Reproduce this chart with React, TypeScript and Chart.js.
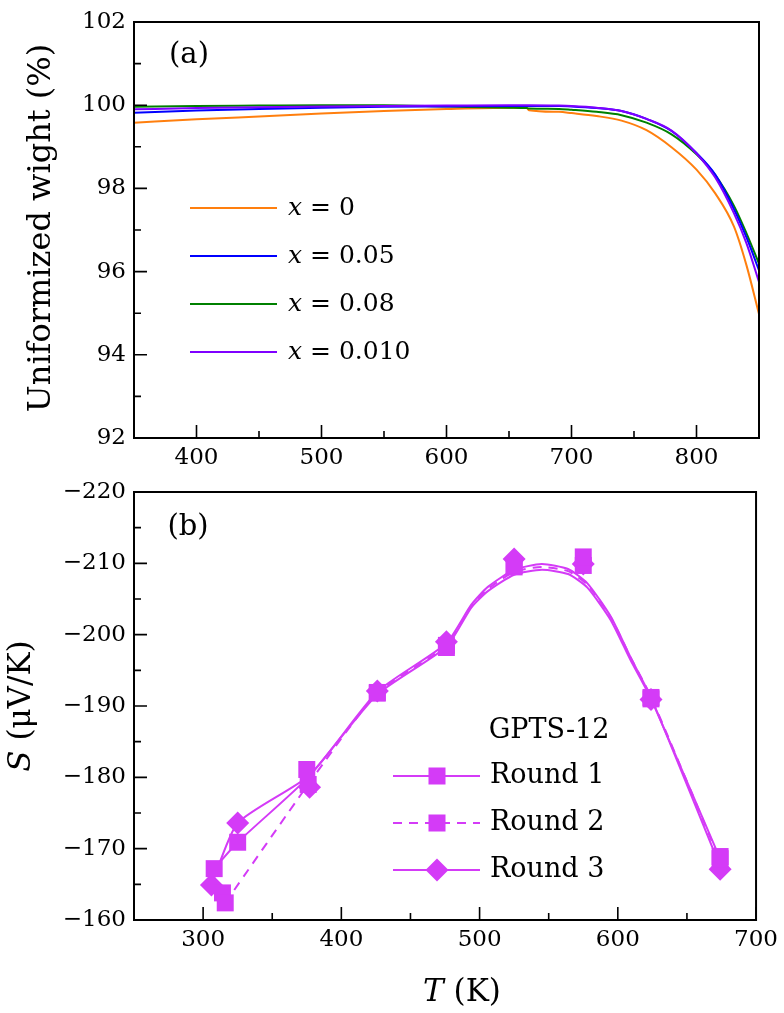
import React, { useEffect, useRef } from 'react';
import { Chart, registerables } from 'chart.js';

Chart.register(...registerables);

// ---------- Panel (a) data: TGA curves ----------
const TOP_T = [350, 400, 450, 500, 550, 600, 650, 664, 666, 690, 700, 720, 740, 760, 780, 800, 815, 830, 840, 850];
const W_X0 = [99.58, 99.66, 99.73, 99.8, 99.86, 99.91, 99.94, 99.94, 99.88, 99.84, 99.81, 99.74, 99.63, 99.4, 98.99, 98.45, 97.88, 97.08, 96.15, 94.98];
const W_X005 = [99.82, 99.87, 99.91, 99.94, 99.96, 99.97, 99.98, 99.98, 99.98, 99.98, 99.97, 99.93, 99.86, 99.67, 99.38, 98.85, 98.33, 97.5, 96.82, 96.03];
const W_X008 = [99.96, 99.98, 99.99, 100.0, 100.0, 99.97, 99.94, 99.93, 99.92, 99.91, 99.89, 99.84, 99.76, 99.58, 99.3, 98.82, 98.32, 97.58, 96.92, 96.19];
const W_X010 = [99.9, 99.93, 99.95, 99.97, 99.98, 99.99, 100.0, 100.0, 100.0, 99.99, 99.98, 99.94, 99.86, 99.67, 99.39, 98.84, 98.26, 97.4, 96.68, 95.75];
const TOP_LEGEND = ['0', '0.05', '0.08', '0.010'];
const TOP_X_TICKS = [400, 500, 600, 700, 800];
const TOP_X_MINOR = [450, 550, 650, 750];
const TOP_Y_TICKS = [92, 94, 96, 98, 100, 102];
const TOP_Y_MINOR = [93, 95, 97, 99, 101];

// ---------- Panel (b) data: Seebeck coefficient ----------
const R1_T = [308, 325, 375, 426, 476, 525, 575, 624, 674];
const R1_S = [-167.2, -170.9, -181.1, -191.8, -198.2, -209.7, -210.9, -191.2, -168.9];
const R2_T = [314, 316, 376, 426, 476, 525, 575, 624, 674];
const R2_S = [-163.8, -162.4, -179.0, -191.9, -198.5, -209.5, -209.7, -191.0, -168.6];
const R3_T = [306, 325, 377, 426, 476, 525, 575, 624, 674];
const R3_S = [-164.9, -173.6, -178.6, -192.1, -199.0, -210.6, -209.9, -190.9, -167.1];

// connecting curves as they are drawn in the figure
const L1_T = [308, 325, 376, 426, 476, 494, 506, 525, 545, 564, 578, 595, 609, 624, 674];
const L1_S = [-167.2, -170.9, -180.0, -191.6, -198.3, -203.8, -206.1, -208.4, -209.1, -208.5, -206.6, -202.0, -196.5, -191.0, -168.6];
const L2_T = [316, 376, 426, 476, 494, 506, 525, 545, 564, 578, 595, 609, 624, 674];
const L2_S = [-162.4, -179.0, -191.8, -198.5, -204.0, -206.4, -208.8, -209.5, -208.9, -207.0, -202.4, -196.9, -191.3, -168.3];
const L3_T = [306, 325, 377, 426, 476, 494, 506, 525, 545, 564, 578, 595, 609, 624, 674];
const L3_S = [-164.9, -173.6, -180.3, -192.0, -198.8, -204.2, -206.7, -209.1, -209.9, -209.2, -207.2, -202.5, -196.9, -191.2, -167.5];

const BOT_LEGEND = ['Round 1', 'Round 2', 'Round 3'];
const BOT_X_TICKS = [300, 400, 500, 600, 700];
const BOT_X_MINOR = [350, 450, 550, 650];
const BOT_Y_TICKS = [-220, -210, -200, -190, -180, -170, -160];
const BOT_Y_MINOR = [-215, -205, -195, -185, -175, -165];

const FONT = '"DejaVu Serif", serif';
const MAG = '#d43bf7';
const COLORS = ['#ff7f0e', '#0000ff', '#008000', '#7f00ff'];

const zip = (xs: number[], ys: number[]) => xs.map((x, i) => ({ x, y: ys[i] }));

function drawSquare(ctx: CanvasRenderingContext2D, x: number, y: number, side: number) {
  ctx.fillRect(x - side / 2, y - side / 2, side, side);
}
function drawDiamond(ctx: CanvasRenderingContext2D, x: number, y: number, r: number) {
  ctx.beginPath();
  ctx.moveTo(x - r, y);
  ctx.lineTo(x, y - r);
  ctx.lineTo(x + r, y);
  ctx.lineTo(x, y + r);
  ctx.closePath();
  ctx.fill();
}

function drawParts(ctx: CanvasRenderingContext2D, parts: [string, boolean][], x: number, y: number, size: number, align: 'left' | 'center') {
  const widths = parts.map(([t, it]) => {
    ctx.font = `${it ? 'italic ' : ''}${size}px ${FONT}`;
    return ctx.measureText(t).width;
  });
  const total = widths.reduce((a, b) => a + b, 0);
  let cx = align === 'center' ? x - total / 2 : x;
  ctx.textAlign = 'left';
  ctx.textBaseline = 'middle';
  parts.forEach(([t, it], i) => {
    ctx.font = `${it ? 'italic ' : ''}${size}px ${FONT}`;
    ctx.fillText(t, cx, y);
    cx += widths[i];
  });
}

function frameAndTicks(chart: any, xMaj: number[], xMin: number[], yMaj: number[], yMin: number[]) {
  const { ctx, chartArea: a, scales } = chart;
  ctx.save();
  ctx.strokeStyle = '#000';
  ctx.lineWidth = 1.6;
  ctx.beginPath();
  const tick = (px: number, len: number, horiz: boolean) => {
    if (horiz) {
      ctx.moveTo(a.left, px);
      ctx.lineTo(a.left + len, px);
    } else {
      ctx.moveTo(px, a.bottom);
      ctx.lineTo(px, a.bottom - len);
    }
  };
  xMaj.forEach((v) => tick(scales.x.getPixelForValue(v), 13, false));
  xMin.forEach((v) => tick(scales.x.getPixelForValue(v), 7, false));
  yMaj.forEach((v) => tick(scales.y.getPixelForValue(v), 13, true));
  yMin.forEach((v) => tick(scales.y.getPixelForValue(v), 7, true));
  ctx.stroke();
  ctx.lineWidth = 2;
  ctx.strokeRect(a.left, a.top, a.right - a.left, a.bottom - a.top);
  ctx.restore();
}

const tickFont = { family: FONT, size: 23 };

export default function App() {
  const topRef = useRef<HTMLCanvasElement>(null);
  const botRef = useRef<HTMLCanvasElement>(null);

  useEffect(() => {
    const topSeries = [W_X0, W_X005, W_X008, W_X010];
    const drawOrder = [3, 1, 2, 0];
    const top = new Chart(topRef.current as HTMLCanvasElement, {
      type: 'line',
      data: {
        datasets: topSeries.map((s, i) => ({
          data: zip(TOP_T, s),
          borderColor: COLORS[i],
          borderWidth: 2,
          pointRadius: 0,
          cubicInterpolationMode: 'monotone',
          fill: false,
          order: drawOrder[i],
        })),
      },
      options: {
        responsive: false,
        animation: false,
        events: [],
        layout: { padding: { left: 0, right: 25, top: 22, bottom: 0 } },
        plugins: { legend: { display: false }, tooltip: { enabled: false } },
        scales: {
          x: {
            type: 'linear',
            min: 350,
            max: 850,
            grid: { display: false, drawTicks: false },
            border: { display: false },
            ticks: { font: tickFont, color: '#000', padding: 6, maxRotation: 0 },
            afterBuildTicks: (s: any) => { s.ticks = TOP_X_TICKS.map((v) => ({ value: v })); },
            afterFit: (s: any) => { s.height = 32; },
          },
          y: {
            type: 'linear',
            min: 92,
            max: 102,
            grid: { display: false, drawTicks: false },
            border: { display: false },
            ticks: { font: tickFont, color: '#000', padding: 8 },
            afterBuildTicks: (s: any) => { s.ticks = TOP_Y_TICKS.map((v) => ({ value: v })); },
            afterFit: (s: any) => { s.width = 134; },
          },
        },
      },
      plugins: [
        {
          id: 'overlayTop',
          afterDraw(chart: any) {
            frameAndTicks(chart, TOP_X_TICKS, TOP_X_MINOR, TOP_Y_TICKS, TOP_Y_MINOR);
            const ctx = chart.ctx as CanvasRenderingContext2D;
            ctx.save();
            ctx.fillStyle = '#000';
            drawParts(ctx, [['(a)', false]], 189, 55, 29, 'center');
            ctx.save();
            ctx.translate(42, 228);
            ctx.rotate(-Math.PI / 2);
            drawParts(ctx, [['Uniformized wight (%)', false]], 0, 0, 32, 'center');
            ctx.restore();
            const rows = [208, 256, 304, 352];
            TOP_LEGEND.forEach((lab, i) => {
              ctx.strokeStyle = COLORS[i];
              ctx.lineWidth = 2;
              ctx.beginPath();
              ctx.moveTo(190, rows[i]);
              ctx.lineTo(277, rows[i]);
              ctx.stroke();
              ctx.fillStyle = '#000';
              drawParts(ctx, [['x', true], [' = ' + lab, false]], 288, rows[i], 25, 'left');
            });
            ctx.restore();
          },
        },
      ],
    } as any);

    const lineBase = { borderColor: MAG, borderWidth: 2, pointRadius: 0, tension: 0.2, fill: false };
    const bot = new Chart(botRef.current as HTMLCanvasElement, {
      type: 'line',
      data: {
        datasets: [
          { data: zip(R1_T, R1_S), showLine: false, pointStyle: 'rect', pointRadius: 12, pointBackgroundColor: MAG, pointBorderColor: MAG, pointBorderWidth: 0 },
          { data: zip(R2_T, R2_S), showLine: false, pointStyle: 'rect', pointRadius: 12, pointBackgroundColor: MAG, pointBorderColor: MAG, pointBorderWidth: 0 },
          { data: zip(R3_T, R3_S), showLine: false, pointStyle: 'rectRot', pointRadius: 11.5, pointBackgroundColor: MAG, pointBorderColor: MAG, pointBorderWidth: 0 },
          { ...lineBase, data: zip(L1_T, L1_S) },
          { ...lineBase, data: zip(L2_T, L2_S), borderDash: [9, 7] },
          { ...lineBase, data: zip(L3_T, L3_S) },
        ],
      },
      options: {
        responsive: false,
        animation: false,
        events: [],
        layout: { padding: { left: 0, right: 25, top: 22, bottom: 0 } },
        plugins: { legend: { display: false }, tooltip: { enabled: false } },
        scales: {
          x: {
            type: 'linear',
            min: 250,
            max: 700,
            grid: { display: false, drawTicks: false },
            border: { display: false },
            ticks: { font: tickFont, color: '#000', padding: 6, maxRotation: 0 },
            afterBuildTicks: (s: any) => { s.ticks = BOT_X_TICKS.map((v) => ({ value: v })); },
            afterFit: (s: any) => { s.height = 93; },
          },
          y: {
            type: 'linear',
            min: -220,
            max: -160,
            reverse: true,
            grid: { display: false, drawTicks: false },
            border: { display: false },
            ticks: {
              font: tickFont,
              color: '#000',
              padding: 8,
              callback: (v: any) => (v < 0 ? '\u2212' + Math.abs(v) : String(v)),
            },
            afterBuildTicks: (s: any) => { s.ticks = BOT_Y_TICKS.map((v) => ({ value: v })); },
            afterFit: (s: any) => { s.width = 134; },
          },
        },
      },
      plugins: [
        {
          id: 'overlayBot',
          afterDraw(chart: any) {
            frameAndTicks(chart, BOT_X_TICKS, BOT_X_MINOR, BOT_Y_TICKS, BOT_Y_MINOR);
            const ctx = chart.ctx as CanvasRenderingContext2D;
            ctx.save();
            ctx.fillStyle = '#000';
            drawParts(ctx, [['(b)', false]], 188, 57, 29, 'center');
            drawParts(ctx, [['T', true], [' (K)', false]], 462, 523, 31, 'center');
            ctx.save();
            ctx.translate(22, 236);
            ctx.rotate(-Math.PI / 2);
            drawParts(ctx, [['S', true], [' (\u03bcV/K)', false]], 0, 0, 31, 'center');
            ctx.restore();
            drawParts(ctx, [['GPTS-12', false]], 549, 261, 27, 'center');
            const rows = [306, 353, 400];
            BOT_LEGEND.forEach((lab, i) => {
              ctx.strokeStyle = MAG;
              ctx.lineWidth = 2;
              ctx.setLineDash(i === 1 ? [9, 7] : []);
              ctx.beginPath();
              ctx.moveTo(393, rows[i]);
              ctx.lineTo(480, rows[i]);
              ctx.stroke();
              ctx.setLineDash([]);
              ctx.fillStyle = MAG;
              if (i === 2) drawDiamond(ctx, 437, rows[i], 11.5);
              else drawSquare(ctx, 437, rows[i], 17);
              ctx.fillStyle = '#000';
              drawParts(ctx, [[lab, false]], 490, rows[i], 27, 'left');
            });
            ctx.restore();
          },
        },
      ],
    } as any);

    return () => {
      top.destroy();
      bot.destroy();
    };
  }, []);

  return (
    <div style={{ position: 'absolute', left: 0, top: 0, width: 784, height: 1013, background: '#fff' }}>
      <canvas ref={topRef} width={784} height={470} style={{ position: 'absolute', left: 0, top: 0, width: 784, height: 470 }} />
      <canvas ref={botRef} width={784} height={543} style={{ position: 'absolute', left: 0, top: 470, width: 784, height: 543 }} />
    </div>
  );
}
